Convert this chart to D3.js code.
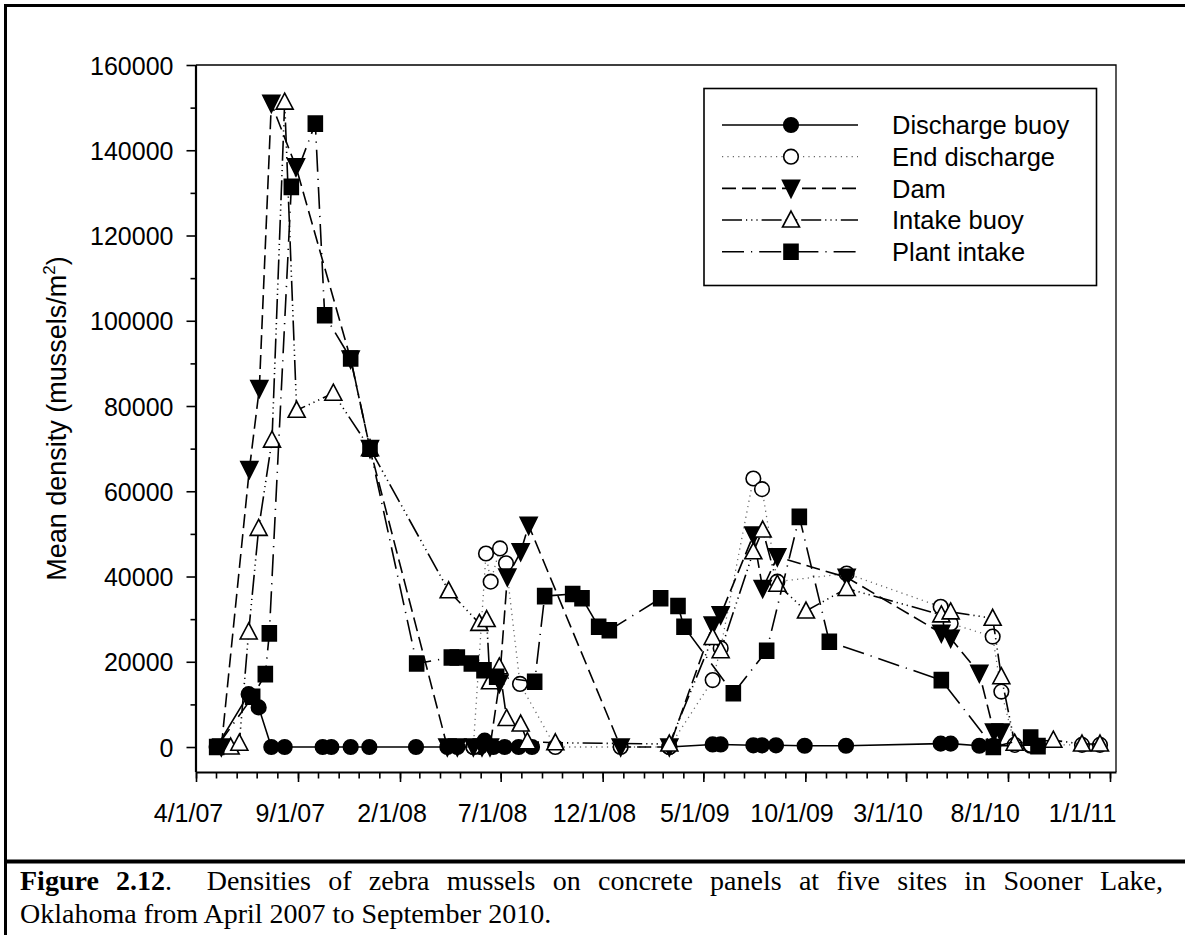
<!DOCTYPE html>
<html>
<head>
<meta charset="utf-8">
<script src="https://cdn.jsdelivr.net/npm/d3@7"></script>
<style>
  body { margin: 0; background: #fff; }
  svg { display: block; }
</style>
</head>
<body>
<svg id="chart" width="1185" height="935"></svg>
<script>
// ---- data: sampling dates (m/d/yy) and mean density (mussels/m^2); null = no sample (line break)
const tickLabels = ["4/1/07", "9/1/07", "2/1/08", "7/1/08", "12/1/08", "5/1/09", "10/1/09", "3/1/10", "8/1/10", "1/1/11"];
const yTickValues = [0, 20000, 40000, 60000, 80000, 100000, 120000, 140000, 160000];
const seriesNames = ["Discharge buoy", "End discharge", "Dam", "Intake buoy", "Plant intake"];

const dischargeBuoy = [
  ["5/2/07", 0], ["6/19/07", 12400], ["7/4/07", 9300], ["7/23/07", 0], ["8/12/07", 0],
  ["10/8/07", 0], ["10/21/07", 0], ["11/19/07", 0], ["12/17/07", 0], ["2/25/08", 0],
  ["4/12/08", 0], ["4/27/08", 0], ["5/21/08", 0], ["5/31/08", 0], ["6/7/08", 1500],
  ["6/20/08", 0], ["7/7/08", 0], ["7/28/08", 0], ["8/17/08", 0], ["10/1/08", null],
  ["3/11/09", 0], ["5/15/09", 600], ["5/27/09", 600], ["7/15/09", 400], ["7/28/09", 400],
  ["8/18/09", 400], ["9/30/09", 300], ["12/1/09", 300], ["4/22/10", 800], ["5/7/10", 800],
  ["6/19/10", 300], ["7/10/10", 300], ["9/4/10", 300], ["9/15/10", 300]
];

const endDischarge = [
  ["5/21/08", 0], ["6/9/08", 45400], ["6/16/08", 38800], ["6/30/08", 46600], ["7/9/08", 43100],
  ["7/30/08", 14800], ["9/21/08", 0], ["12/28/08", 0], ["3/11/09", 0], ["5/15/09", 15700],
  ["5/27/09", 23200], ["7/15/09", 63000], ["7/28/09", 60500], ["8/20/09", 38800], ["12/2/09", 40700],
  ["4/22/10", 32900], ["5/7/10", 29000], ["7/9/10", 25900], ["7/22/10", 13000], ["8/11/10", 500],
  ["9/4/10", 500], ["11/20/10", 500], ["12/17/10", 500]
];

const dam = [
  ["5/9/07", 0], ["6/20/07", 65100], ["7/5/07", 84100], ["7/23/07", 151000], ["8/29/07", 136100],
  ["11/19/07", 91000], ["12/18/07", 70000], ["4/12/08", 0], ["4/27/08", 0], ["5/21/08", 0],
  ["6/3/08", 0], ["6/15/08", 0], ["6/29/08", 14900], ["7/11/08", 39900], ["7/31/08", 45800],
  ["8/12/08", 52000], ["12/28/08", 0], ["3/11/09", 0], ["5/15/09", 28600], ["5/27/09", 31000],
  ["7/15/09", 49700], ["7/29/09", 37200], ["8/20/09", 44600], ["12/2/09", 39800], ["4/23/10", 26700],
  ["5/7/10", 25500], ["6/19/10", 17300], ["7/11/10", 3500], ["7/21/10", 3500]
];

const intakeBuoy = [
  ["5/23/07", 0], ["6/5/07", 900], ["6/19/07", 27000], ["7/4/07", 51300], ["7/24/07", 72000],
  ["8/12/07", 151300], ["8/30/07", 79000], ["10/24/07", 83000], ["12/18/07", 70000], ["4/14/08", 36650],
  ["5/30/08", 29000], ["6/10/08", 29900], ["6/15/08", 15300], ["6/29/08", 18800], ["7/10/08", 6700],
  ["7/31/08", 5400], ["8/10/08", 1250], ["9/21/08", 1000], ["3/11/09", 700], ["5/15/09", 25700],
  ["5/27/09", 22600], ["7/15/09", 45800], ["7/29/09", 50900], ["8/20/09", 38200], ["10/2/09", 31900],
  ["12/2/09", 37200], ["4/23/10", 31000], ["5/7/10", 31700], ["7/9/10", 30200], ["7/22/10", 16500],
  ["8/11/10", 900], ["10/8/10", 1600], ["11/20/10", 700], ["12/17/10", 700]
];

const plantIntake = [
  ["5/2/07", 0], ["6/25/07", 11800], ["7/14/07", 17100], ["7/20/07", 26650], ["8/22/07", 131400],
  ["9/27/07", 146250], ["10/11/07", 101300], ["11/19/07", 91150], ["12/18/07", 70000], ["2/26/08", 19600],
  ["4/18/08", 21000], ["4/27/08", 21000], ["5/18/08", 19600], ["6/6/08", 18000], ["6/25/08", 16500],
  ["8/21/08", 15300], ["9/5/08", 35400], ["10/17/08", 35900], ["10/31/08", 34900], ["11/25/08", 28200],
  ["12/11/08", 27400], ["2/26/09", 34900], ["3/24/09", 33100], ["4/2/09", 28200], ["6/15/09", 12600],
  ["8/4/09", 22600], ["9/22/09", 54000], ["11/6/09", 24700], ["4/23/10", 15700], ["7/10/10", 0],
  ["9/4/10", 2200], ["9/15/10", 200]
];

// ---- styling per site
const parseDate = d3.timeParse("%m/%d/%y");
const styles = [
  { data: dischargeBuoy, dash: null,                     symbol: "circle",  fill: "#000" },
  { data: endDischarge,  dash: "1.2,4.2",                symbol: "circle",  fill: "#fff", stroke: "#666", width: 1.3 },
  { data: dam,           dash: "14,6",                   symbol: "triDown", fill: "#000" },
  { data: intakeBuoy,    dash: "20,4,1.2,4,1.2,4,1.2,4", symbol: "triUp",   fill: "#fff" },
  { data: plantIntake,   dash: "22,7,1.2,7",             symbol: "square",  fill: "#000" }
];

const svg = d3.select("#chart");
const W = 1185, H = 935;
const plot = { left: 196, right: 1116, top: 65, bottom: 772 };

const x = d3.scaleTime()
  .domain([parseDate(tickLabels[0]), d3.timeDay.offset(parseDate(tickLabels[tickLabels.length - 1]), 9)])
  .range([plot.left, plot.right]);
const y = d3.scaleLinear()
  .domain([-5860, 160000])
  .range([plot.bottom, plot.top]);

// ---- figure border and caption divider
svg.append("line").attr("x1", 5.5).attr("x2", 5.5).attr("y1", 4).attr("y2", H)
  .attr("stroke", "#000").attr("stroke-width", 3);
svg.append("line").attr("x1", 4).attr("x2", W).attr("y1", 5.5).attr("y2", 5.5)
  .attr("stroke", "#000").attr("stroke-width", 3);
svg.append("line").attr("x1", 4).attr("x2", W).attr("y1", 861.5).attr("y2", 861.5)
  .attr("stroke", "#000").attr("stroke-width", 4);

// ---- frame (top and right)
svg.append("path")
  .attr("d", `M${plot.left},${plot.top}H${plot.right}V${plot.bottom}`)
  .attr("fill", "none").attr("stroke", "#000").attr("stroke-width", 1.3);

// ---- axes
const tickDates = tickLabels.map(parseDate);
const axisFont = "'Liberation Sans', Arial, sans-serif";

const xMinor = svg.append("g").attr("transform", `translate(0,${plot.bottom})`)
  .call(d3.axisBottom(x).ticks(d3.timeMonth.every(1)).tickSize(6.5).tickSizeOuter(0).tickFormat(""));
xMinor.select(".domain").remove();
xMinor.selectAll("line").attr("stroke-width", 1.6);

const xAxis = svg.append("g").attr("transform", `translate(0,${plot.bottom})`)
  .call(d3.axisBottom(x).tickValues(tickDates).tickSize(10).tickSizeOuter(0)
    .tickFormat((d, i) => tickLabels[i]));
xAxis.select(".domain").attr("stroke-width", 2.2);
xAxis.selectAll("line").attr("stroke-width", 1.6);
// labels drift slightly left of their ticks across the axis
const labelShift = d3.scaleLinear()
  .domain([x(tickDates[0]), x(tickDates[5]), x(tickDates[9])])
  .range([-8, -9, -28]);
xAxis.selectAll(".tick text")
  .attr("font-family", axisFont).attr("font-size", 25).attr("fill", "#000")
  .attr("y", 0).attr("dy", 0)
  .attr("transform", d => `translate(${labelShift(x(d))},50)`);

const yMinor = svg.append("g").attr("transform", `translate(${plot.left},0)`)
  .call(d3.axisLeft(y).tickValues(d3.range(10000, 160000, 20000)).tickSize(5.5).tickSizeOuter(0).tickFormat(""));
yMinor.select(".domain").remove();
yMinor.selectAll("line").attr("stroke-width", 1.6);

const yAxis = svg.append("g").attr("transform", `translate(${plot.left},0)`)
  .call(d3.axisLeft(y).tickValues(yTickValues).tickSize(9.5).tickPadding(13).tickSizeOuter(0)
    .tickFormat(d3.format("d")));
yAxis.select(".domain").attr("stroke-width", 2.2).attr("d", `M0,${plot.bottom}V${plot.top}`);
yAxis.selectAll("line").attr("stroke-width", 1.6);
yAxis.selectAll(".tick text")
  .attr("font-family", axisFont).attr("font-size", 25).attr("fill", "#000").attr("dy", "0.36em");

// y title
const yTitle = svg.append("text")
  .attr("transform", `translate(66,${(plot.top + plot.bottom) / 2}) rotate(-90)`)
  .attr("text-anchor", "middle")
  .attr("font-family", axisFont).attr("font-size", 27).attr("fill", "#000");
yTitle.append("tspan").text("Mean density (mussels/m");
yTitle.append("tspan").text("2").attr("font-size", 17).attr("dy", -11);
yTitle.append("tspan").text(")").attr("dy", 11);

// ---- marker shapes
function markerPath(kind) {
  if (kind === "circle") return d3.symbol(d3.symbolCircle, Math.PI * 7.3 * 7.3)();
  if (kind === "square") return "M-7,-7.5H7V7.5H-7Z";
  if (kind === "triUp") return "M0,-9L8.5,7L-8.5,7Z";
  return "M-8.5,-8L8.5,-8L0,9Z";
}

// ---- series: line then markers, in site order
const line = d3.line()
  .defined(d => d[1] !== null)
  .x(d => x(parseDate(d[0])))
  .y(d => y(d[1]));

styles.forEach(s => {
  const g = svg.append("g");
  g.append("path")
    .attr("d", line(s.data))
    .attr("fill", "none")
    .attr("stroke", s.stroke || "#000")
    .attr("stroke-width", s.width || 1.6)
    .attr("stroke-dasharray", s.dash);
  g.selectAll("path.mk")
    .data(s.data.filter(d => d[1] !== null))
    .join("path")
    .attr("class", "mk")
    .attr("d", markerPath(s.symbol))
    .attr("transform", d => `translate(${x(parseDate(d[0]))},${y(d[1])})`)
    .attr("fill", s.fill)
    .attr("stroke", "#000")
    .attr("stroke-width", 1.6);
});

// ---- legend
const legend = svg.append("g");
legend.append("rect")
  .attr("x", 704).attr("y", 88.5).attr("width", 392.5).attr("height", 197)
  .attr("fill", "#fff").attr("stroke", "#000").attr("stroke-width", 1.6);
const rowY = d3.scalePoint().domain(seriesNames).range([125, 251.7]);
seriesNames.forEach((name, i) => {
  const s = styles[i];
  const yy = rowY(name);
  legend.append("line")
    .attr("x1", 722).attr("x2", 858).attr("y1", yy).attr("y2", yy)
    .attr("stroke", s.stroke || "#000").attr("stroke-width", s.width || 1.6)
    .attr("stroke-dasharray", s.dash);
  legend.append("path")
    .attr("d", markerPath(s.symbol))
    .attr("transform", `translate(791,${yy})`)
    .attr("fill", s.fill).attr("stroke", "#000").attr("stroke-width", 1.6);
  legend.append("text")
    .attr("x", 892).attr("y", yy).attr("dy", "0.36em")
    .attr("font-family", axisFont).attr("font-size", 25.5).attr("fill", "#000")
    .text(name);
});

// ---- caption (first line justified to the right margin)
const capFont = "'Liberation Serif', 'Times New Roman', serif";
const capLeft = 20, capRight = 1163;
const cap1 = svg.append("text").attr("x", capLeft).attr("y", 889.5)
  .attr("font-family", capFont).attr("font-size", 28).attr("fill", "#000")
  .attr("xml:space", "preserve");
cap1.append("tspan").attr("font-weight", "bold").text("Figure 2.12");
cap1.append("tspan").text(".  Densities of zebra mussels on concrete panels at five sites in Sooner Lake,");
// measure with two trial spacings and solve for the spacing that reaches the right margin
cap1.attr("word-spacing", 0);
const w0 = cap1.node().getBBox().width;
cap1.attr("word-spacing", 10);
const w10 = cap1.node().getBBox().width;
const perUnit = (w10 - w0) / 10;
const spacing = perUnit > 0 ? Math.max(0, (capRight - capLeft - w0) / perUnit) : 0;
cap1.attr("word-spacing", spacing);
svg.append("text").attr("x", capLeft).attr("y", 923)
  .attr("font-family", capFont).attr("font-size", 28).attr("fill", "#000")
  .text("Oklahoma from April 2007 to September 2010.");
</script>
</body>
</html>
